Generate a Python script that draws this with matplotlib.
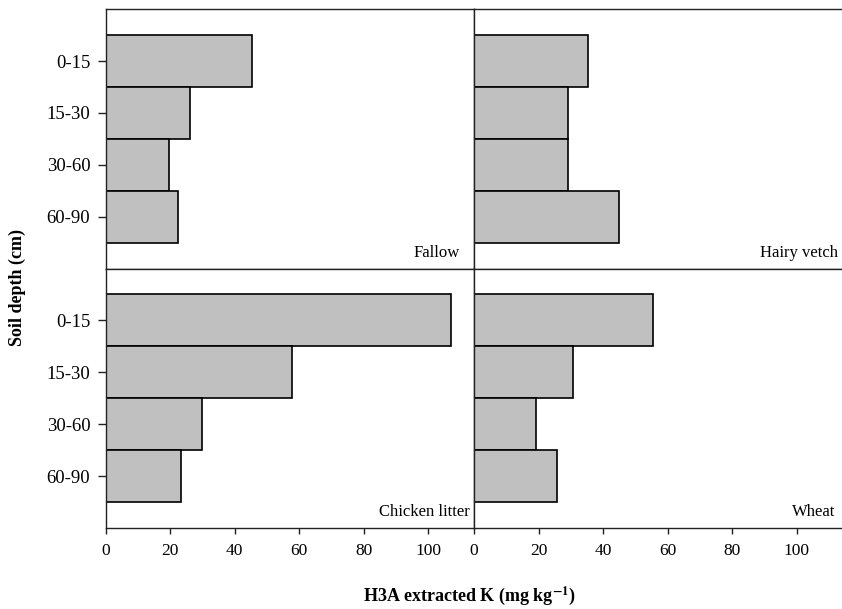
import matplotlib
matplotlib.use('Agg')
import matplotlib.pyplot as plt
import numpy as np

plt.rcParams['font.family'] = ['Liberation Serif', 'DejaVu Serif']
plt.rcParams['mathtext.fontset'] = 'stix'

# data
depths = ['0-15', '15-30', '30-60', '60-90']
fallow = [45.5, 26.3, 19.8, 22.5]
hairy_vetch = [35.4, 29.1, 29.0, 45.0]
chicken_litter = [107.2, 57.8, 29.9, 23.3]
wheat = [55.4, 30.6, 19.3, 25.6]
x_ticks = [0, 20, 40, 60, 80, 100]

panels = [
    ('Fallow', fallow, 110.0),
    ('Hairy vetch', hairy_vetch, 113.0),
    ('Chicken litter', chicken_litter, 113.0),
    ('Wheat', wheat, 112.0),
]

W, H = 842, 609
fig = plt.figure(figsize=(W / 100, H / 100), dpi=100)

# panel boxes in pixels: (left, top, right, bottom)
boxes = [
    (105.5, 9.3, 474.0, 268.5),
    (474.0, 9.3, 842.0, 268.5),
    (105.5, 268.5, 474.0, 528.0),
    (474.0, 268.5, 842.0, 528.0),
]

pos = np.arange(1, len(depths) + 1)

for i, ((name, vals, lx), (l, t, r, b)) in enumerate(zip(panels, boxes)):
    ax = fig.add_axes([l / W, 1 - b / H, (r - l) / W, (b - t) / H])
    ax.barh(pos, vals, height=1.0, color='#c0c0c0', edgecolor='black', linewidth=1.2)
    ax.set_xlim(0, (r - l) / 3.225)
    ax.set_ylim(5, 0)
    for s in ax.spines.values():
        s.set_linewidth(1.0)
        s.set_color('#222222')
    if i in (1, 3):
        ax.spines['right'].set_visible(False)
        ax.set_yticks([])
    else:
        ax.set_yticks(pos)
        ax.set_yticklabels(depths, fontsize=13.5)
        ax.tick_params(axis='y', direction='out', length=6, width=1.0, pad=5,
                       colors='#222222', labelcolor='black')
    if i in (0, 1):
        ax.set_xticks([])
    else:
        ax.set_xticks(x_ticks)
        ax.set_xticklabels([str(v) for v in x_ticks], fontsize=12.5)
        ax.tick_params(axis='x', direction='out', length=4, width=1.0, pad=7,
                       colors='#222222', labelcolor='black')
    ax.text(lx, 4.7, name, ha='right', va='center', fontsize=12)

fig.text(17 / W, 1 - 287 / H, 'Soil depth (cm)', rotation=90, ha='center', va='center',
         fontsize=13, fontweight='bold')
fig.text(470 / W, 1 - 596 / H, r'H3A extracted K (mg kg$^{\mathbf{-1}}$)', ha='center', va='center',
         fontsize=13, fontweight='bold')

fig.savefig('out.png', dpi=100, facecolor='white')
